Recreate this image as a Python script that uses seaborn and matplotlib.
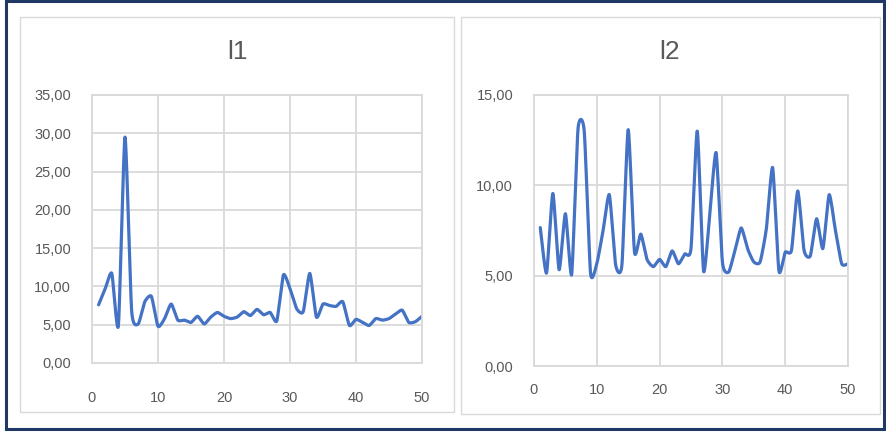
import numpy as np
import matplotlib
matplotlib.use("Agg")
import matplotlib.pyplot as plt
from matplotlib.patches import Rectangle
from matplotlib.ticker import FuncFormatter
import seaborn as sns

# Sample index shared by both series
x_vals = list(range(1, 51))

l1_vals = [7.6, 9.7, 11.7, 4.9, 29.5, 6.9, 5.1, 8.0, 8.7, 4.8,
           5.8, 7.7, 5.6, 5.6, 5.3, 6.1, 5.1, 6.0, 6.6, 6.1,
           5.8, 6.0, 6.7, 6.2, 7.0, 6.3, 6.6, 5.5, 11.5, 9.7,
           7.1, 6.7, 11.7, 6.0, 7.7, 7.5, 7.4, 8.0, 4.9, 5.7,
           5.3, 4.9, 5.8, 5.6, 5.8, 6.4, 6.9, 5.3, 5.4, 6.1]

l2_vals = [7.66, 5.15, 9.55, 5.33, 8.43, 5.07, 13.1, 13.0, 5.15, 5.66,
           7.5, 9.48, 5.6, 5.6, 13.08, 6.3, 7.3, 5.9, 5.5, 5.9,
           5.5, 6.37, 5.66, 6.2, 6.5, 13.0, 5.26, 8.43, 11.8, 5.76,
           5.2, 6.4, 7.64, 6.5, 5.76, 5.76, 7.6, 10.98, 5.26, 6.3,
           6.4, 9.69, 6.4, 6.1, 8.15, 6.5, 9.48, 7.5, 5.66, 5.66]

titles = ["l1", "l2"]
x_ticks = [0, 10, 20, 30, 40, 50]
y_ticks_l1 = [0, 5, 10, 15, 20, 25, 30, 35]
y_ticks_l2 = [0, 5, 10, 15]

LINE = "#4472C4"
GRID = "#D9D9D9"
TEXT = "#595959"
NAVY = "#203864"


def smooth_curve(xs, ys, steps=24, k=0.1):
    """Bezier smoothing through every point (spreadsheet-style smoothed line)."""
    xs = np.asarray(xs, float)
    ys = np.asarray(ys, float)
    pts = np.column_stack([xs, ys])
    n = len(pts)
    out = [pts[0]]
    t = np.linspace(0, 1, steps + 1)[1:, None]
    for i in range(n - 1):
        p0 = pts[i - 1] if i > 0 else pts[i]
        p1 = pts[i]
        p2 = pts[i + 1]
        p3 = pts[i + 2] if i + 2 < n else pts[i + 1]
        c1 = p1 + (p2 - p0) * k
        c2 = p2 - (p3 - p1) * k
        seg = ((1 - t) ** 3) * p1 + 3 * ((1 - t) ** 2) * t * c1 \
            + 3 * (1 - t) * t ** 2 * c2 + t ** 3 * p2
        out.extend(seg)
    out = np.array(out)
    return out[:, 0], out[:, 1]


sns.set_theme(style="white")
plt.rcParams["font.family"] = ["Liberation Sans", "DejaVu Sans"]

W, H = 886, 432
fig = plt.figure(figsize=(W / 100, H / 100), dpi=100)
fig.patch.set_facecolor("white")


def fig_rect(x0, y0, x1, y1, color, lw):
    fig.patches.append(Rectangle((x0 / W, 1 - y1 / H), (x1 - x0) / W, (y1 - y0) / H,
                                 transform=fig.transFigure, fill=False,
                                 edgecolor=color, linewidth=lw, zorder=0))


# outer frame and the two chart boxes
fig_rect(6, 1, 884, 429, NAVY, 2.2)
fig_rect(20, 17, 454, 412, GRID, 1.0)
fig_rect(461, 17, 880, 414, GRID, 1.0)

comma_fmt = FuncFormatter(lambda v, p: f"{v:.2f}".replace(".", ","))

panels = [
    dict(vals=l1_vals, title=titles[0], box=(92, 95, 422, 363), yt=y_ticks_l1,
         xpad=20, title_x=237),
    dict(vals=l2_vals, title=titles[1], box=(534, 95, 848, 366), yt=y_ticks_l2,
         xpad=12, title_x=670),
]

for p in panels:
    x0, y0, x1, y1 = p["box"]
    ax = fig.add_axes([x0 / W, 1 - y1 / H, (x1 - x0) / W, (y1 - y0) / H])
    sx, sy = smooth_curve(x_vals, p["vals"])
    sns.lineplot(x=sx, y=sy, ax=ax, color=LINE, linewidth=2.3, sort=False,
                 estimator=None)
    ax.set_xlim(0, 50)
    ax.set_ylim(p["yt"][0], p["yt"][-1])
    ax.set_xticks(x_ticks)
    ax.set_yticks(p["yt"])
    ax.yaxis.set_major_formatter(comma_fmt)
    ax.grid(True, color=GRID, linewidth=1.3)
    ax.set_axisbelow(True)
    for s in ax.spines.values():
        s.set_visible(True)
        s.set_color(GRID)
        s.set_linewidth(1.3)
    ax.tick_params(axis="both", length=0, labelsize=10.5, labelcolor=TEXT)
    ax.tick_params(axis="y", pad=15)
    ax.tick_params(axis="x", pad=p["xpad"])
    fig.text(p["title_x"] / W, 1 - 52 / H, p["title"], ha="center", va="center",
             fontsize=19, color=TEXT)

fig.savefig("out.png", dpi=100, facecolor="white")
